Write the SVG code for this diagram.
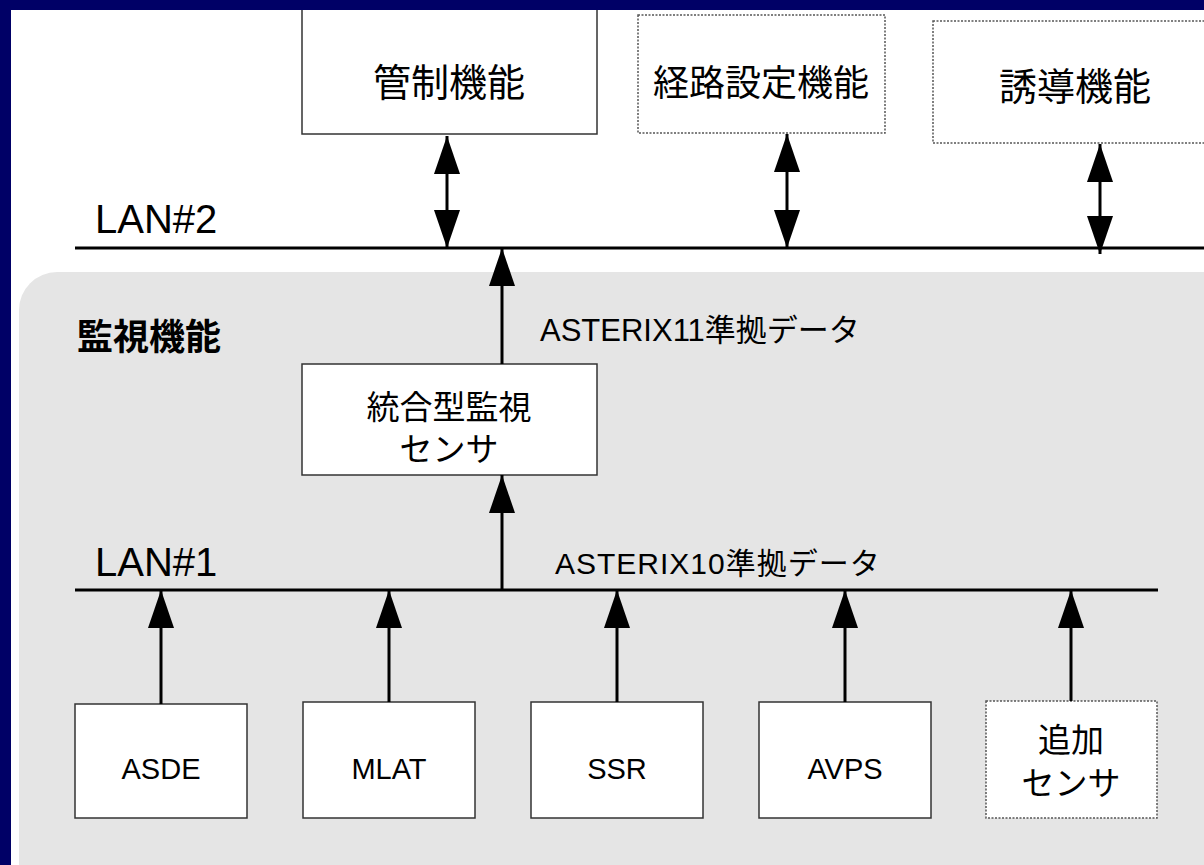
<svg xmlns="http://www.w3.org/2000/svg" width="1204" height="865" viewBox="0 0 1204 865">
<defs>
<marker id="ah" markerUnits="userSpaceOnUse" markerWidth="38" markerHeight="26" refX="38" refY="13" orient="auto-start-reverse" viewBox="0 0 38 26">
<path d="M0,0 L38,13 L0,26 z" fill="#000"/>
</marker>
<style>
.t{font-family:"Liberation Sans","Noto Sans CJK JP",sans-serif;fill:#000}
.box{fill:#fff;stroke:#333;stroke-width:1.5}
.dot{fill:#fff;stroke:#555;stroke-width:1.5;stroke-dasharray:2 1.5}
.ln{stroke:#000;stroke-width:3;fill:none}
.ar{stroke:#000;stroke-width:3;fill:none;marker-end:url(#ah)}
.ar2{stroke:#000;stroke-width:3;fill:none;marker-start:url(#ah);marker-end:url(#ah)}
</style>
</defs>
<rect width="1204" height="865" fill="#fff"/>
<rect x="19" y="272" width="1230" height="640" rx="38" fill="#e5e5e5"/>

<g id="kansei"><rect class="box" x="302" y="2" width="295" height="132"/><text class="t" x="449" y="96" font-size="38" text-anchor="middle">管制機能</text></g>
<g id="keiro"><rect class="dot" x="638" y="15" width="247" height="118"/><text class="t" x="761" y="96" font-size="36" text-anchor="middle">経路設定機能</text></g>
<g id="yudo"><rect class="dot" x="933" y="21" width="290" height="122"/><text class="t" x="1075" y="100" font-size="38" text-anchor="middle">誘導機能</text></g>

<g id="lan2"><text class="t" x="95" y="233" font-size="40">LAN#2</text></g>
<g id="kanshi-label"><text class="t" x="77" y="350" font-size="36" font-weight="bold">監視機能</text></g>

<g id="togo"><rect class="box" x="302" y="364" width="295" height="111"/><text class="t" x="449" y="419" font-size="33" text-anchor="middle">統合型監視</text><text class="t" x="449" y="461" font-size="33" text-anchor="middle">センサ</text></g>

<g id="lan1"><text class="t" x="95" y="576" font-size="40">LAN#1</text></g>

<g id="asde"><rect class="box" x="75" y="704" width="172" height="114"/><text class="t" x="161" y="779" font-size="29" text-anchor="middle">ASDE</text></g>
<g id="mlat"><rect class="box" x="303" y="702" width="172" height="116"/><text class="t" x="389" y="779" font-size="29" text-anchor="middle">MLAT</text></g>
<g id="ssr"><rect class="box" x="531" y="702" width="172" height="116"/><text class="t" x="617" y="779" font-size="29" text-anchor="middle">SSR</text></g>
<g id="avps"><rect class="box" x="759" y="702" width="172" height="116"/><text class="t" x="845" y="779" font-size="29" text-anchor="middle">AVPS</text></g>
<g id="tsuika"><rect class="dot" x="986" y="701" width="171" height="117"/><text class="t" x="1071" y="752" font-size="33" text-anchor="middle">追加</text><text class="t" x="1071" y="795" font-size="33" text-anchor="middle">センサ</text></g>

<g id="connectors">
<line class="ln" x1="75" y1="248" x2="1204" y2="248"/>
<line class="ln" x1="75" y1="590" x2="1158" y2="590"/>
<line class="ar2" x1="447" y1="136" x2="447" y2="248"/>
<line class="ar2" x1="787" y1="134" x2="787" y2="248"/>
<line class="ar2" x1="1100" y1="144" x2="1100" y2="254"/>
<line class="ar" x1="502" y1="364" x2="502" y2="248"/>
<line class="ar" x1="502" y1="590" x2="502" y2="475"/>
<line class="ar" x1="161" y1="704" x2="161" y2="590"/>
<line class="ar" x1="389" y1="702" x2="389" y2="590"/>
<line class="ar" x1="617" y1="702" x2="617" y2="590"/>
<line class="ar" x1="845" y1="702" x2="845" y2="590"/>
<line class="ar" x1="1071" y1="701" x2="1071" y2="590"/>
<text class="t" x="540" y="341" font-size="31">ASTERIX11準拠データ</text>
<text class="t" x="555" y="574" font-size="30" letter-spacing="1">ASTERIX10準拠データ</text>
</g>

<rect x="0" y="0" width="1204" height="10" fill="#000066"/>
<rect x="0" y="0" width="11" height="865" fill="#000066"/>
</svg>
